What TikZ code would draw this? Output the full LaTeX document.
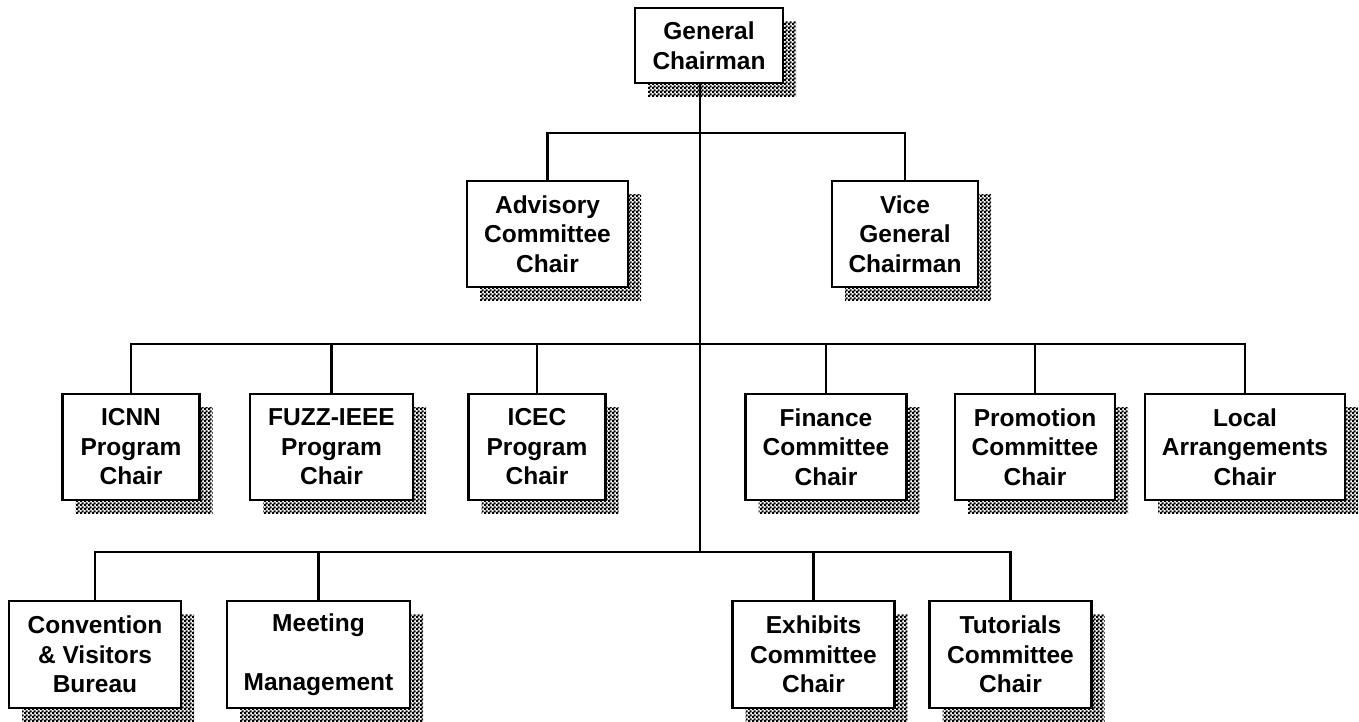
\documentclass[tikz,border=0pt]{standalone}
\usepackage{fontspec}
\setmainfont{Liberation Sans}
\usetikzlibrary{patterns,shadows}
\pgfdeclarepatternformonly{finechecker}{\pgfpoint{0pt}{0pt}}{\pgfpoint{4pt}{4pt}}{\pgfpoint{4pt}{4pt}}{%
  \pgfpathrectangle{\pgfpoint{0pt}{0pt}}{\pgfpoint{2.6pt}{2.6pt}}%
  \pgfpathrectangle{\pgfpoint{2pt}{2pt}}{\pgfpoint{2.6pt}{2.6pt}}%
  \pgfusepath{fill}}
\tikzset{
  box/.style={draw, line width=2.2pt, fill=white, inner sep=0pt, align=center,
    font=\bfseries\fontsize{24.5}{29.5}\selectfont,
    general shadow={shadow xshift=13pt, shadow yshift=-13pt, pattern=finechecker, draw=none}},
  conn/.style={line width=2.2pt}
}
\begin{document}
\begin{tikzpicture}[x=1pt,y=-1pt]
\useasboundingbox (0,0) rectangle (1359,721);
% level 1
\node[box, minimum width=148pt, minimum height=75pt] (gc) at (709,45.5) {General\\Chairman};
% level 2
\node[box, minimum width=161pt, minimum height=106pt] (adv) at (547.5,234) {Advisory\\Committee\\Chair};
\node[box, minimum width=146pt, minimum height=106pt] (vice) at (905,234) {Vice\\General\\Chairman};
% level 3
\node[box, minimum width=137pt, minimum height=106pt] (icnn) at (131,447) {ICNN\\Program\\Chair};
\node[box, minimum width=163pt, minimum height=106pt] (fuzz) at (331.5,447) {FUZZ-IEEE\\Program\\Chair};
\node[box, minimum width=137pt, minimum height=106pt] (icec) at (537,447) {ICEC\\Program\\Chair};
\node[box, minimum width=161pt, minimum height=106pt] (fin) at (826,447) {Finance\\Committee\\Chair};
\node[box, minimum width=160pt, minimum height=106pt] (prom) at (1035,447) {Promotion\\Committee\\Chair};
\node[box, minimum width=200pt, minimum height=106pt] (loc) at (1245,447) {Local\\Arrangements\\Chair};
% level 4
\node[box, minimum width=172pt, minimum height=107pt] (conv) at (95,654.5) {Convention\\\&~Visitors\\Bureau};
\node[box, minimum width=183pt, minimum height=107pt] (meet) at (318.5,654.5) {Meeting\\[29.5pt]Management};
\node[box, minimum width=162pt, minimum height=107pt] (exh) at (813.5,654.5) {Exhibits\\Committee\\Chair};
\node[box, minimum width=162pt, minimum height=107pt] (tut) at (1010.5,654.5) {Tutorials\\Committee\\Chair};
% buses
\coordinate (b2) at (700,133);
\coordinate (b3) at (700,344);
\coordinate (b4) at (700,552);
\draw[conn] (gc.south -| b2) -- (b4);
\draw[conn] (adv.north) |- (b2) -| (vice.north);
\draw[conn] (icnn.north) |- (b3) -| (loc.north);
\draw[conn] (fuzz.north) -- (fuzz.north |- b3);
\draw[conn] (icec.north) -- (icec.north |- b3);
\draw[conn] (fin.north) -- (fin.north |- b3);
\draw[conn] (prom.north) -- (prom.north |- b3);
\draw[conn] (conv.north) |- (b4) -| (tut.north);
\draw[conn] (meet.north) -- (meet.north |- b4);
\draw[conn] (exh.north) -- (exh.north |- b4);
\end{tikzpicture}
\end{document}
